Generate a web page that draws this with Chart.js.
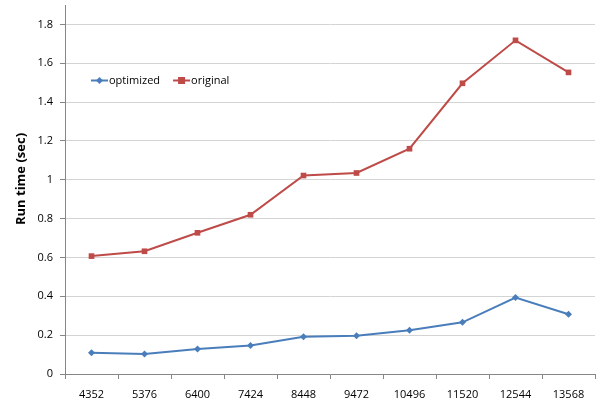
<!DOCTYPE html>
<html>
<head>
<meta charset="utf-8">
<script src="https://cdn.jsdelivr.net/npm/chart.js@4/dist/chart.umd.min.js"></script>
<style>
  html, body { margin: 0; padding: 0; background: #fff; }
  #wrap { position: relative; width: 606px; height: 408px; }
</style>
</head>
<body>
<div id="wrap"><canvas id="c" width="606" height="408"></canvas></div>
<script>
// Problem sizes on the x axis
const sizes = ['4352', '5376', '6400', '7424', '8448', '9472', '10496', '11520', '12544', '13568'];
// Run times in seconds
const optimized = [0.11, 0.103, 0.129, 0.147, 0.192, 0.197, 0.225, 0.266, 0.394, 0.308];
const original  = [0.607, 0.632, 0.727, 0.82, 1.022, 1.035, 1.16, 1.497, 1.718, 1.553];
const seriesNames = ['optimized', 'original'];
const yTitle = 'Run time (sec)';

const BLUE = '#4A7EBB';
const RED = '#BE4B48';
const FONT = "'Open Sans', 'Liberation Sans', sans-serif";

// Legend drawn inside the plot area, top-left
const insideLegend = {
  id: 'insideLegend',
  afterDatasetsDraw(chart) {
    const ctx = chart.ctx;
    const y = 80.5;
    let x = 91;
    ctx.save();
    ctx.font = '11px ' + FONT;
    ctx.textBaseline = 'middle';
    chart.data.datasets.forEach((ds) => {
      ctx.strokeStyle = ds.borderColor;
      ctx.lineWidth = 2;
      ctx.beginPath();
      ctx.moveTo(x, y);
      ctx.lineTo(x + 17, y);
      ctx.stroke();
      ctx.fillStyle = ds.borderColor;
      const cx = x + 8.5;
      if (ds.pointStyle === 'rectRot') {
        ctx.beginPath();
        ctx.moveTo(cx, y - 3.5);
        ctx.lineTo(cx + 3.5, y);
        ctx.lineTo(cx, y + 3.5);
        ctx.lineTo(cx - 3.5, y);
        ctx.closePath();
        ctx.fill();
      } else {
        ctx.fillRect(cx - 3.5, y - 3.5, 7, 7);
      }
      ctx.fillStyle = '#000';
      ctx.fillText(ds.label, x + 18, y);
      x += 18 + ctx.measureText(ds.label).width + 13;
    });
    ctx.restore();
  }
};

// Rotated y axis title at the left edge
const yAxisTitle = {
  id: 'yAxisTitle',
  afterDraw(chart) {
    const ctx = chart.ctx;
    ctx.save();
    ctx.translate(21, 179);
    ctx.rotate(-Math.PI / 2);
    ctx.font = 'bold 13px ' + FONT;
    ctx.fillStyle = '#000';
    ctx.textAlign = 'center';
    ctx.textBaseline = 'middle';
    ctx.fillText(yTitle, 0, 0);
    ctx.restore();
  }
};

new Chart(document.getElementById('c'), {
  type: 'line',
  data: {
    labels: sizes,
    datasets: [
      {
        label: seriesNames[0],
        data: optimized,
        borderColor: BLUE,
        backgroundColor: BLUE,
        borderWidth: 2,
        pointStyle: 'rectRot',
        pointRadius: 3.5,
        pointBorderWidth: 0,
        tension: 0
      },
      {
        label: seriesNames[1],
        data: original,
        borderColor: RED,
        backgroundColor: RED,
        borderWidth: 2,
        pointStyle: 'rect',
        pointRadius: 4,
        pointBorderWidth: 0,
        tension: 0
      }
    ]
  },
  options: {
    responsive: false,
    animation: false,
    devicePixelRatio: 1,
    layout: { padding: { left: 0, right: 11, top: 5, bottom: 0 } },
    plugins: {
      legend: { display: false },
      tooltip: { enabled: false }
    },
    scales: {
      x: {
        offset: true,
        grid: {
          display: true,
          drawOnChartArea: false,
          drawTicks: true,
          tickLength: 5,
          color: '#868686',
          offset: true
        },
        border: { color: '#868686', width: 1 },
        ticks: {
          color: '#000',
          font: { family: FONT, size: 11 },
          padding: 9,
          maxRotation: 0,
          autoSkip: false
        },
        afterFit(scale) { scale.height = 34; scale.paddingLeft = 0; scale.paddingRight = 0; }
      },
      y: {
        min: 0,
        max: 1.9,
        grid: {
          color: '#d4d4d4',
          lineWidth: 1,
          drawTicks: true,
          tickLength: 5,
          tickColor: '#868686'
        },
        border: { color: '#868686', width: 1 },
        ticks: {
          stepSize: 0.2,
          color: '#000',
          font: { family: FONT, size: 11 },
          padding: 7,
          callback: (v) => Number(v.toFixed(1)).toString()
        },
        afterBuildTicks(scale) {
          scale.ticks = scale.ticks.filter(t => t.value <= 1.8 + 1e-9);
        },
        afterFit(scale) { scale.width = 65; scale.paddingTop = 0; scale.paddingBottom = 0; }
      }
    }
  },
  plugins: [insideLegend, yAxisTitle]
});
</script>
</body>
</html>
